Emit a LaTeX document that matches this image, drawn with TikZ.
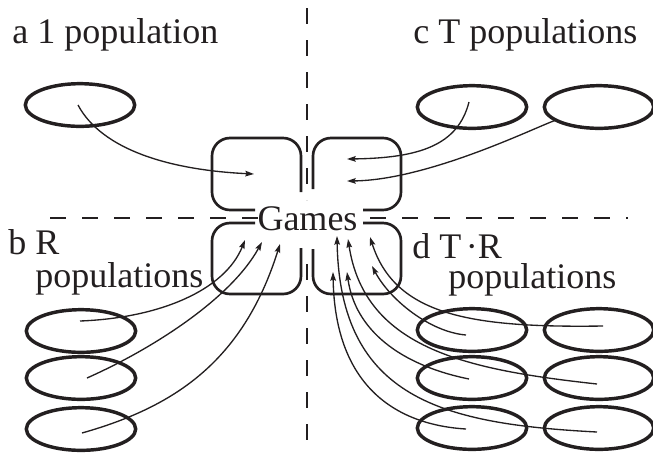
\documentclass[tikz,border=0pt]{standalone}
\usepackage{fontspec}
\setmainfont{Liberation Serif}
\usetikzlibrary{shapes.geometric,arrows.meta,calc}
\definecolor{ink}{RGB}{35,31,32}
\begin{document}
\begin{tikzpicture}[x=0.75pt,y=-0.75pt,
  ink/.style={draw=ink},
  lbl/.style={inner sep=0pt,anchor=base west,text=ink,font=\fontsize{27pt}{32pt}\selectfont},
  pop/.style={ellipse,draw=ink,line width=2.6pt,minimum width=82pt,minimum height=32pt,inner sep=0pt,outer sep=0pt},
  box/.style={draw=ink,line width=2pt,rounded corners=13.5pt},
  divider/.style={draw=ink,line width=1.5pt,dash pattern=on 12pt off 12pt},
  feed/.style={draw=ink,line width=1pt,-{Stealth[length=6.5pt,width=4.2pt,inset=1pt]}}]
\useasboundingbox (0,0) rectangle (653,455);

% quadrant dividers
\path[divider] (307,8) -- (307,200);
\path[divider] (307,264) -- (307,455);
\path[divider] (50,218) -- (258,218);
\path[divider] (370,218) -- (628,218);

% central label
\node[lbl,anchor=base] (games) at (307.5,230) {Games};

% the four open game boxes
\path[box] (255,210) -- (212,210) -- (212,138) -- (301,138) -- (301,192);
\path[box] (313,189) -- (313,138) -- (401,138) -- (401,210) -- (363,210);
\path[box] (255,223) -- (212,223) -- (212,294) -- (301,294) -- (301,248);
\path[box] (313,249) -- (313,294) -- (401,294) -- (401,223) -- (363,223);

% quadrant captions
\node[lbl] (ta) at (12,43) {a 1 population};
\node[lbl] (tc) at (413,43) {c T populations};
\node[lbl] (tb) at (8,254) {b R};
\node[lbl] (tb2) at (35,287) {populations};
\node[lbl] (td) at (412,258) {d T\kern3.5pt·R};
\node[lbl] (td2) at (448,288) {populations};

% populations
\node[pop] (a1) at (80,105) {};
\node[pop] (c1) at (472,107) {};
\node[pop] (c2) at (599,107) {};
\node[pop] (b1) at (81,331) {};
\node[pop] (b2) at (81,378) {};
\node[pop] (b3) at (81,429) {};
\node[pop] (d11) at (472,330) {};
\node[pop] (d12) at (599,330) {};
\node[pop] (d21) at (472,378) {};
\node[pop] (d22) at (599,378) {};
\node[pop] (d31) at (472,428) {};
\node[pop] (d32) at (599,428) {};

% arrow targets inside the boxes
\coordinate (ga) at (254,174);
\coordinate (gc1) at (347,159);
\coordinate (gc2) at (347,181);
\coordinate (gb1) at (245,240);
\coordinate (gb2) at (262,242);
\coordinate (gb3) at (280,244);
\coordinate (gd11) at (372,266);
\coordinate (gd12) at (370,237);
\coordinate (gd21) at (347,272);
\coordinate (gd22) at (348,239);
\coordinate (gd31) at (333,272);
\coordinate (gd32) at (337,236);

% a: one population
\path[feed] ($(a1)+(-2,0)$) .. controls (102,150) and (170,170) .. (ga);
% c: T populations
\path[feed] ($(c1)+(-3,-5)$) .. controls (458,145) and (420,158) .. (gc1);
\path[feed] (c2) .. controls (540,125) and (430,180) .. (gc2);
% b: R populations
\path[feed] ($(b1)+(-1,-10)$) .. controls (160,318) and (225,290) .. (gb1);
\path[feed] (b2) ++(6,0) .. controls (150,350) and (230,300) .. (gb2);
\path[feed] ($(b3)+(1,4)$) .. controls (170,408) and (242,365) .. (gb3);
% d: T*R populations
\path[feed] ($(d11)+(-6,5)$) .. controls (430,332) and (390,300) .. (gd11);
\path[feed] ($(d12)+(4,-4)$) .. controls (470,328) and (395,315) .. (gd12);
\path[feed] ($(d21)+(-3,1)$) .. controls (400,365) and (355,330) .. (gd21);
\path[feed] ($(d22)+(-2,6)$) .. controls (470,370) and (365,350) .. (gd22);
\path[feed] ($(d31)+(-6,1)$) .. controls (400,425) and (335,390) .. (gd31);
\path[feed] ($(d32)+(-2,4)$) .. controls (445,424) and (340,400) .. (gd32);
\end{tikzpicture}
\end{document}
